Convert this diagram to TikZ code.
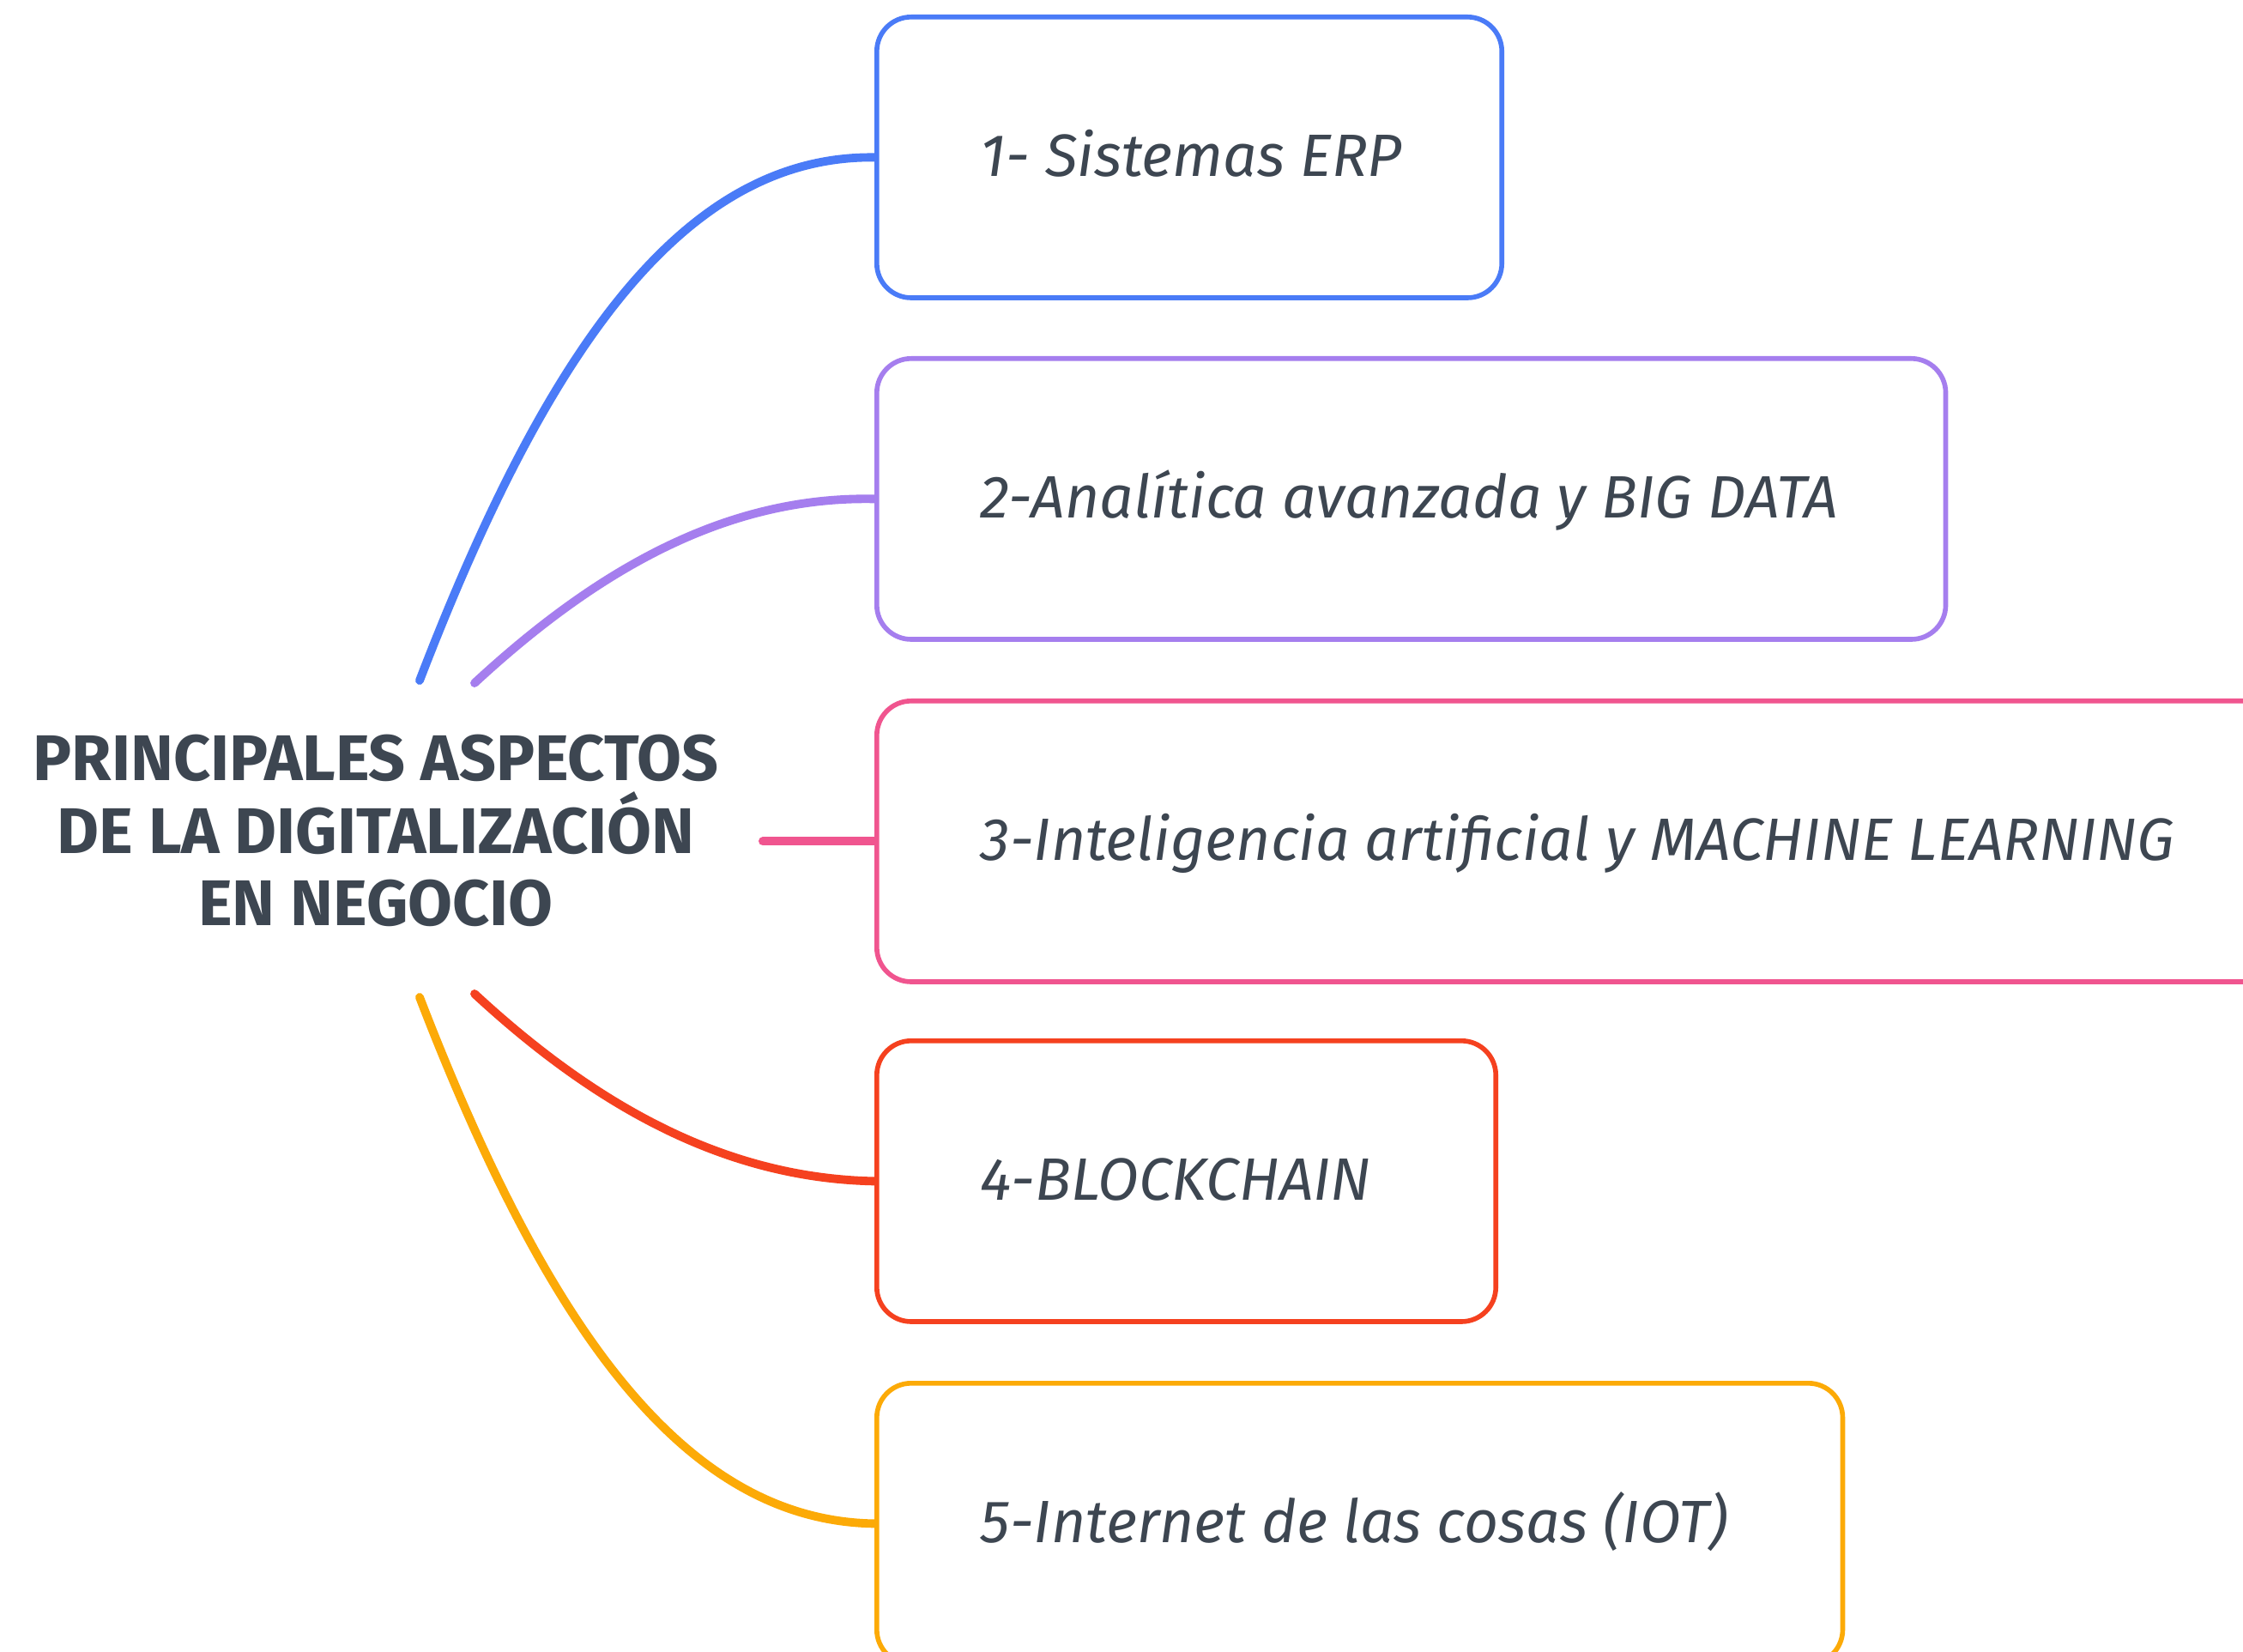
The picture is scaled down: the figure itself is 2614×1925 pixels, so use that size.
\documentclass[tikz,border=0pt]{standalone}
\usepackage{fontspec}
\setmainfont{Fira Sans}
\definecolor{cblue}{HTML}{4A7BF7}
\definecolor{cpurple}{HTML}{A57EEE}
\definecolor{cpink}{HTML}{F0558F}
\definecolor{cred}{HTML}{F5411F}
\definecolor{cyellow}{HTML}{FCAA07}
\definecolor{txt}{HTML}{3D4651}
\begin{document}
\begin{tikzpicture}[x=0.01cm,y=-0.01cm,
  box/.style={draw, rounded corners=0.4cm, line width=1.6pt, inner sep=0pt, anchor=north west, minimum height=3.27cm},
  lbl/.style={anchor=base west, inner sep=0pt, text=txt, font=\fontsize{19.8}{24}\selectfont\itshape},
  conn/.style={line width=2.8pt, line cap=round}]
\useasboundingbox (0,0) rectangle (2614,1925);
\clip (0,0) rectangle (2614,1925);
\fill[white] (0,0) rectangle (2614,1925);

\node[box, draw=cblue,   minimum width=7.28cm]  (b1) at (1019,17)   {};
\node[box, draw=cpurple, minimum width=12.45cm] (b2) at (1019,415)  {};
\node[box, draw=cpink,   minimum width=17cm]    (b3) at (1019,814)  {};
\node[box, draw=cred,    minimum width=7.21cm]  (b4) at (1019,1210) {};
\node[box, draw=cyellow, minimum width=11.25cm] (b5) at (1019,1609) {};

\node[lbl] (t1) at ([xshift=1.23cm,yshift=-0.22cm]b1.west) {1- Sistemas ERP};
\node[lbl] (t2) at ([xshift=1.23cm,yshift=-0.22cm]b2.west) {2-Analítica avanzada y BIG DATA};
\node[lbl] (t3) at ([xshift=1.23cm,yshift=-0.22cm]b3.west) {3-Inteligencia artificial y MACHINE LEARNING};
\node[lbl] (t4) at ([xshift=1.23cm,yshift=-0.22cm]b4.west) {4-BLOCKCHAIN};
\node[lbl] (t5) at ([xshift=1.23cm,yshift=-0.22cm]b5.west) {5-Internet de las cosas (IOT)};

\node[align=center, text=txt, inner sep=0pt, font=\fontsize{21.4}{24}\selectfont\bfseries] (root) at (438,968)
  {PRINCIPALES ASPECTOS\\DE LA DIGITALIZACIÓN\\EN NEGOCIO};

\coordinate (s1) at (489,793);
\coordinate (s2) at (553,796);
\coordinate (s3) at ([xshift=-1.3cm]b3.west);
\coordinate (s4) at (553,1158);
\coordinate (s5) at (489,1162);

\draw[conn, cblue]   (s1) .. controls (640,400) and (800,181) .. (b1.west);
\draw[conn, cpurple] (s2) .. controls (700,660) and (850,578) .. (b2.west);
\draw[conn, cpink]   (s3) -- (b3.west);
\draw[conn, cred]    (s4) .. controls (700,1294) and (850,1373) .. (b4.west);
\draw[conn, cyellow] (s5) .. controls (640,1554) and (800,1772) .. (b5.west);
\end{tikzpicture}
\end{document}
